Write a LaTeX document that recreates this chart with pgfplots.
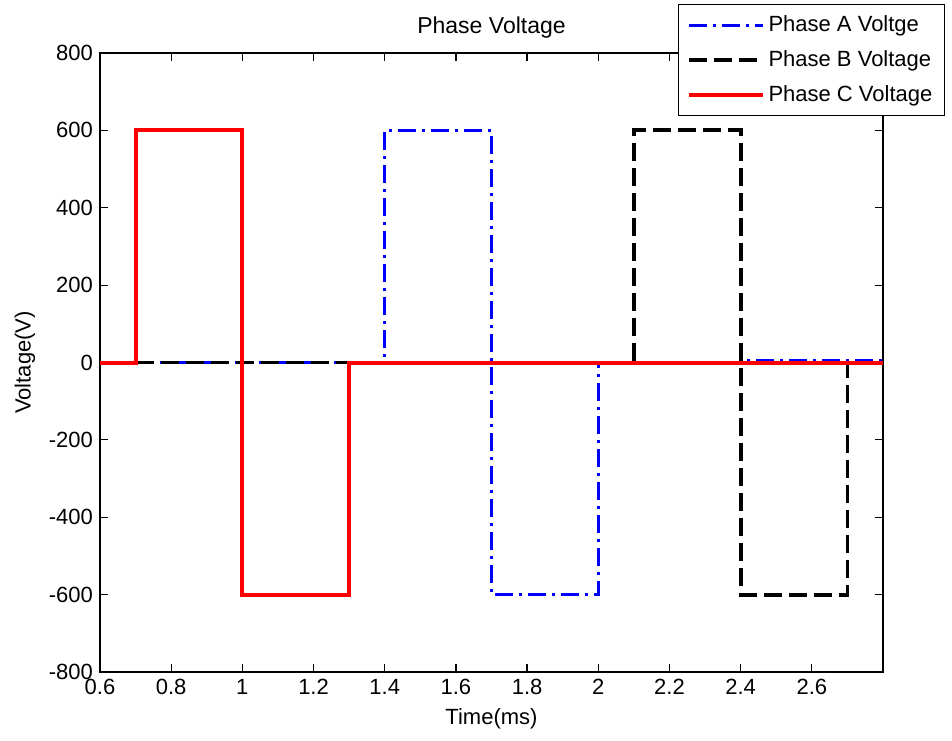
\documentclass[border=0pt]{standalone}
\usepackage{pgfplots}
\pgfplotsset{compat=1.18}
\usepackage{fontspec}
\setmainfont{Liberation Sans}
\begin{document}
\begin{tikzpicture}
\useasboundingbox (-50pt,-34pt) rectangle (426pt,336pt);
\begin{axis}[
  scale only axis,
  width=391.5pt, height=309.5pt,
  xmin=0.6, xmax=2.8, ymin=-800, ymax=800,
  xtick={0.6,0.8,1,1.2,1.4,1.6,1.8,2,2.2,2.4,2.6},
  ytick={-800,-600,-400,-200,0,200,400,600,800},
  xticklabels={0.6,0.8,1,1.2,1.4,1.6,1.8,2,2.2,2.4,2.6},
  yticklabels={-800,-600,-400,-200,0,200,400,600,800},
  tick align=inside,
  major tick length=4pt,
  tick style={black, line width=0.6pt},
  axis line style={black, line width=0.6pt},
  ticklabel style={font=\fontsize{11}{13}\selectfont},
  /pgf/number format/assume math mode=true,
  title={Phase Voltage},
  title style={font=\fontsize{11.5}{13}\selectfont, yshift=-2pt},
  xlabel={Time(ms)},
  ylabel={Voltage(V)},
  label style={font=\fontsize{11}{13}\selectfont},
  legend style={at={(1.0792,1.0792)}, anchor=north east, draw=black, fill=white,
    line width=0.6pt, font=\fontsize{11}{13}\selectfont,
    row sep=4pt, inner xsep=4pt, inner ysep=3.5pt},
  legend cell align=left,
  legend image code/.code={\draw[#1] (0pt,0pt) -- (37pt,0pt);},
]
\addplot[blue, line width=1.5pt, dash pattern=on 9pt off 3pt on 1.5pt off 3pt] coordinates {
 (0.7,0) (1.4,0) (1.4,600) (1.7,600) (1.7,-600) (2.0,-600) (2.0,0) (2.4,0) (2.4,5) (2.8,5)};
\addlegendentry{Phase A Voltge}
\addplot[black, line width=1.9pt, dash pattern=on 9pt off 3.5pt] coordinates {
 (0.7,0) (2.1,0) (2.1,600) (2.4,600) (2.4,-600) (2.7,-600) (2.7,0) (2.8,0)};
\addlegendentry{Phase B Voltage}
\addplot[red, line width=2pt] coordinates {
 (0.6,0) (0.7,0) (0.7,600) (1.0,600) (1.0,-600) (1.3,-600) (1.3,0) (2.8,0)};
\addlegendentry{Phase C Voltage}
\end{axis}
\end{tikzpicture}
\end{document}
